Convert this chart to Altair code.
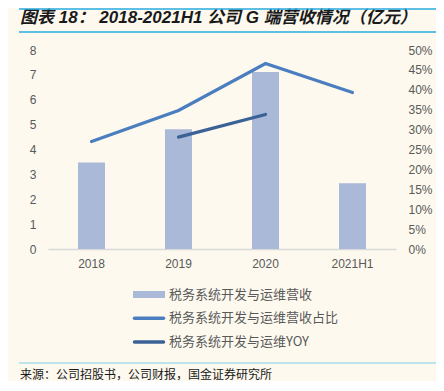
import altair as alt
import pandas as pd

categories = ["2018", "2019", "2020", "2021H1"]
revenue = [3.48, 4.81, 7.12, 2.64]
share = [0.270, 0.348, 0.466, 0.393]
yoy_categories = ["2019", "2020"]
yoy = [0.281, 0.338]
series_names = ["税务系统开发与运维营收", "税务系统开发与运维营收占比", "税务系统开发与运维YOY"]
left_ticks = [0, 1, 2, 3, 4, 5, 6, 7, 8]
right_ticks = [i / 100 for i in range(0, 55, 5)]
title_text = "图表 18： 2018-2021H1 公司 G 端营收情况（亿元）"
source_text = "来源：公司招股书，公司财报，国金证券研究所"

BAR_C = "#A9B9D7"
L1 = "#4A7EBF"
L2 = "#3B6296"
BG = "#FDF9EF"
ACCENT = "#29ABE2"
TXT = "#595959"
CJK = "Noto Sans CJK SC"
W, H = 348, 199

bar_df = pd.DataFrame({"cat": categories, "value": revenue})
line_df = pd.DataFrame({
    "cat": categories + yoy_categories,
    "pct": share + yoy,
    "series": [series_names[1]] * len(categories) + [series_names[2]] * len(yoy_categories),
})
leg_df = pd.DataFrame({"name": series_names})
one = pd.DataFrame({"t": [title_text], "s": [source_text]})

xscale = alt.Scale(domain=categories, paddingInner=0, paddingOuter=0)
x_axis = alt.Axis(title=None, labelFont="Liberation Sans", labelFontSize=12, labelColor=TXT,
                  domainColor="#D9D9D9", domainWidth=1.5, ticks=False, labelPadding=9,
                  labelAngle=0, grid=False)

bars = alt.Chart(bar_df).mark_bar(size=27, color=BAR_C).encode(
    x=alt.X("cat:N", scale=xscale, axis=x_axis, sort=categories),
    y=alt.Y("value:Q", scale=alt.Scale(domain=[0, 8], nice=False),
            axis=alt.Axis(title=None, orient="left", values=left_ticks, domain=False, ticks=False,
                          grid=False, labelPadding=12, labelFont="Liberation Sans",
                          labelFontSize=12, labelColor=TXT)),
)

lines = alt.Chart(line_df).mark_line(strokeWidth=3.2, strokeCap="round", strokeJoin="miter").encode(
    x=alt.X("cat:N", scale=xscale, axis=x_axis, sort=categories, bandPosition=0.5),
    y=alt.Y("pct:Q", scale=alt.Scale(domain=[0, 0.5], nice=False),
            axis=alt.Axis(title=None, orient="right", values=right_ticks, format=".0%", domain=False,
                          ticks=False, grid=False, labelPadding=12, labelFont="Liberation Sans",
                          labelFontSize=12, labelColor=TXT)),
    color=alt.Color("series:N", scale=alt.Scale(domain=series_names[1:], range=[L1, L2]), legend=None),
)

# title and source decorations
title = alt.Chart(one).mark_text(align="left", baseline="middle",
                                 font="Liberation Sans, Noto Sans CJK SC", fontSize=17,
                                 fontWeight="bold", fontStyle="italic", color="#1A1A1A").encode(
    x=alt.value(-28), y=alt.value(-32), text="t:N")
rule_top = alt.Chart(one).mark_rule(color=ACCENT, strokeWidth=1.5).encode(
    x=alt.value(-29), x2=alt.value(388), y=alt.value(-41))
rule_mid = alt.Chart(one).mark_rule(color=ACCENT, strokeWidth=1.5).encode(
    x=alt.value(-29), x2=alt.value(388), y=alt.value(-18))
rule_src = alt.Chart(one).mark_rule(color="#7ECDE8", strokeWidth=1.2).encode(
    x=alt.value(-29), x2=alt.value(388), y=alt.value(313))
source = alt.Chart(one).mark_text(align="left", baseline="middle", font=CJK, fontSize=12,
                                  color="#1A1A1A").encode(
    x=alt.value(-28), y=alt.value(325), text="s:N")

# manual legend
leg_base = alt.Chart(leg_df).transform_window(idx="row_number()")
leg_y = alt.Y("idx:Q", scale=alt.Scale(domain=[1, 3], range=[244.5, 292]), axis=None)
leg_rect = leg_base.mark_rule(strokeWidth=7, strokeCap="butt", color=BAR_C).encode(
    x=alt.value(85), x2=alt.value(117), y=leg_y).transform_filter("datum.idx == 1")
leg_lines = leg_base.mark_rule(strokeWidth=3.5, strokeCap="round").encode(
    x=alt.value(86.5), x2=alt.value(115.5), y=leg_y,
    color=alt.Color("name:N", scale=alt.Scale(domain=series_names, range=[BAR_C, L1, L2]), legend=None),
).transform_filter("datum.idx > 1")
leg_text = leg_base.mark_text(align="left", baseline="middle", font=CJK, fontSize=13, color=TXT).encode(
    x=alt.value(121), y=leg_y, text="name:N")

chart = alt.layer(
    bars, lines, title, rule_top, rule_mid, rule_src, source, leg_rect, leg_lines, leg_text
).resolve_scale(y="independent", color="independent").properties(
    width=W, height=H,
    autosize=alt.AutoSizeParams(type="none"),
    padding={"left": 40, "top": 42, "right": 40, "bottom": 132},
    background=BG,
).configure_view(stroke=None)

chart.save("out.html", embed_options={"renderer": "svg", "actions": False})
